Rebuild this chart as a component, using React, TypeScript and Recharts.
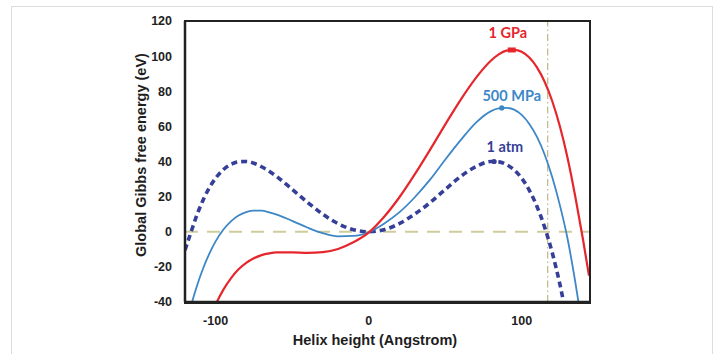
import React from "react";
import { LineChart, Line, XAxis, YAxis, ReferenceLine, ReferenceDot } from "recharts";

// helix height (Angstrom)
const heights = [-120, -116, -112, -108, -104, -100, -95, -90, -85, -80, -75, -70, -65, -60, -50, -40, -30, -20, -10, 0,
  10, 20, 30, 40, 50, 60, 70, 80, 85, 90, 95, 100, 105, 110, 115, 120, 125, 130, 135, 140, 144];

// global Gibbs free energy (eV)
const atm1 = [-10.5, 0, 10, 18.4, 25.2, 30.5, 35.3, 38.3, 39.8, 40, 39, 37, 34.5, 31.4, 24.2, 16.8, 10, 4.6, 1.2, 0,
  1.2, 4.6, 10, 16.5, 24, 31.4, 37, 40, 39.8, 38.3, 35.3, 30.5, 23.6, 14.4, 2.6, -12, -30, -52, -77, -107, -134];
const mpa500 = [-55, -41.9, -30.3, -20.5, -12.3, -5.5, 1.1, 5.9, 9.2, 11.2, 12, 12, 11.1, 9.8, 6.2, 2.4, -0.8, -2.6, -2.4, -0.3,
  4.6, 11, 19.5, 29.5, 41, 52, 62, 68.7, 70.2, 70.5, 69.5, 66.5, 61.4, 54, 44, 31, 15, -4, -28.4, -56, -80];
const gpa1 = [-98.5, -83.6, -70.6, -59.4, -49.7, -41.5, -33.1, -26.5, -21.4, -17.7, -15.1, -13.3, -12.3, -11.8, -11.8, -12, -11.6, -9.8, -6, -0.5,
  8.4, 19.5, 32.5, 46.5, 61, 75, 87.5, 97.5, 101, 103.1, 103.6, 102.5, 99.2, 93.6, 85.4, 74.3, 59.9, 42, 20.2, -4, -25];

const xTicks = [-100, 0, 100];
const yTicks = [-40, -20, 0, 20, 40, 60, 80, 100, 120];

const peakX = [93.5, 87, 82];
const peakY = [103.5, 70.5, 40];

const data = heights.map((h, i) => ({ h, atm: atm1[i], mpa: mpa500[i], gpa: gpa1[i] }));

const RED = "#e5262c";
const BLUE = "#3d87c7";
const NAVY = "#353f98";
const FRAME = "#222";

const tickStyle = { fontFamily: "Liberation Sans, Arial, sans-serif", fontSize: 12.5, fontWeight: 700, fill: "#1e1e1e" };
const noteStyle = { fontFamily: "Lato, sans-serif", fontSize: 14.5, fontWeight: 700 };
const titleStyle = { fontFamily: "Liberation Sans, Arial, sans-serif", fontSize: 14.5, fontWeight: 700, fill: "#1e1e1e" };

export default function App() {
  return (
    <div style={{ position: "absolute", left: 0, top: 0, width: 720, height: 354, background: "#fff", overflow: "hidden" }}>
      <div style={{ position: "absolute", left: 11, top: 6, width: 700, height: 370, border: "1px solid #dcdcdc" }} />
      <div style={{ position: "absolute", left: 0, top: 0 }}>
        <LineChart width={720} height={354} data={data} margin={{ top: 21, right: 131, bottom: 0, left: 0 }}>
          <XAxis
            dataKey="h"
            type="number"
            domain={[-120, 144]}
            ticks={xTicks}
            allowDataOverflow
            height={52}
            axisLine={{ stroke: FRAME, strokeWidth: 2.5 }}
            tickLine={false}
            tickMargin={8}
            tick={tickStyle}
            label={{
              content: () => (
                <text x={375} y={340} textAnchor="middle" dominantBaseline="central" style={titleStyle}>
                  Helix height (Angstrom)
                </text>
              ),
            }}
          />
          <YAxis
            type="number"
            domain={[-40, 120]}
            ticks={yTicks}
            allowDataOverflow
            width={185}
            axisLine={{ stroke: FRAME, strokeWidth: 2.5 }}
            tickLine={false}
            tickMargin={7}
            tick={tickStyle}
            label={{
              content: () => (
                <text x={141} y={155} transform="rotate(-90 141 155)" textAnchor="middle" dominantBaseline="central" style={titleStyle}>
                  Global Gibbs free energy (eV)
                </text>
              ),
            }}
          />
          <ReferenceLine y={0} stroke="#cfcb9c" strokeWidth={2} strokeDasharray="13 9" />
          <ReferenceLine x={117} stroke="#bdb882" strokeWidth={1.2} strokeDasharray="7 3 1.5 3" />
          <Line dataKey="atm" type="monotone" stroke={NAVY} strokeWidth={3.6} strokeDasharray="6 4" dot={false} isAnimationActive={false} />
          <Line dataKey="mpa" type="monotone" stroke={BLUE} strokeWidth={1.8} dot={false} isAnimationActive={false} />
          <Line dataKey="gpa" type="monotone" stroke={RED} strokeWidth={2.2} dot={false} isAnimationActive={false} />
          <ReferenceDot x={peakX[0]} y={peakY[0]} r={3} fill={RED} stroke="none"
            shape={(p: any) => <rect x={p.cx - 4} y={p.cy - 2.5} width={8} height={5} fill={RED} />} />
          <ReferenceDot x={peakX[1]} y={peakY[1]} r={2.6} fill={BLUE} stroke="none" />
          <ReferenceDot x={peakX[2]} y={peakY[2]} r={2.6} fill={NAVY} stroke="none" />
          <ReferenceDot x={91} y={113.2} r={0} stroke="none"
            label={{ value: "1 GPa", position: "center", fill: RED, ...noteStyle }} />
          <ReferenceDot x={93.5} y={77.2} r={0} stroke="none"
            label={{ value: "500 MPa", position: "center", fill: BLUE, ...noteStyle }} />
          <ReferenceDot x={89} y={48.4} r={0} stroke="none"
            label={{ value: "1 atm", position: "center", fill: NAVY, ...noteStyle }} />
        </LineChart>
      </div>
      <div style={{ position: "absolute", left: 184, top: 20, width: 403, height: 280, border: "2px solid #222", pointerEvents: "none" }} />
    </div>
  );
}
